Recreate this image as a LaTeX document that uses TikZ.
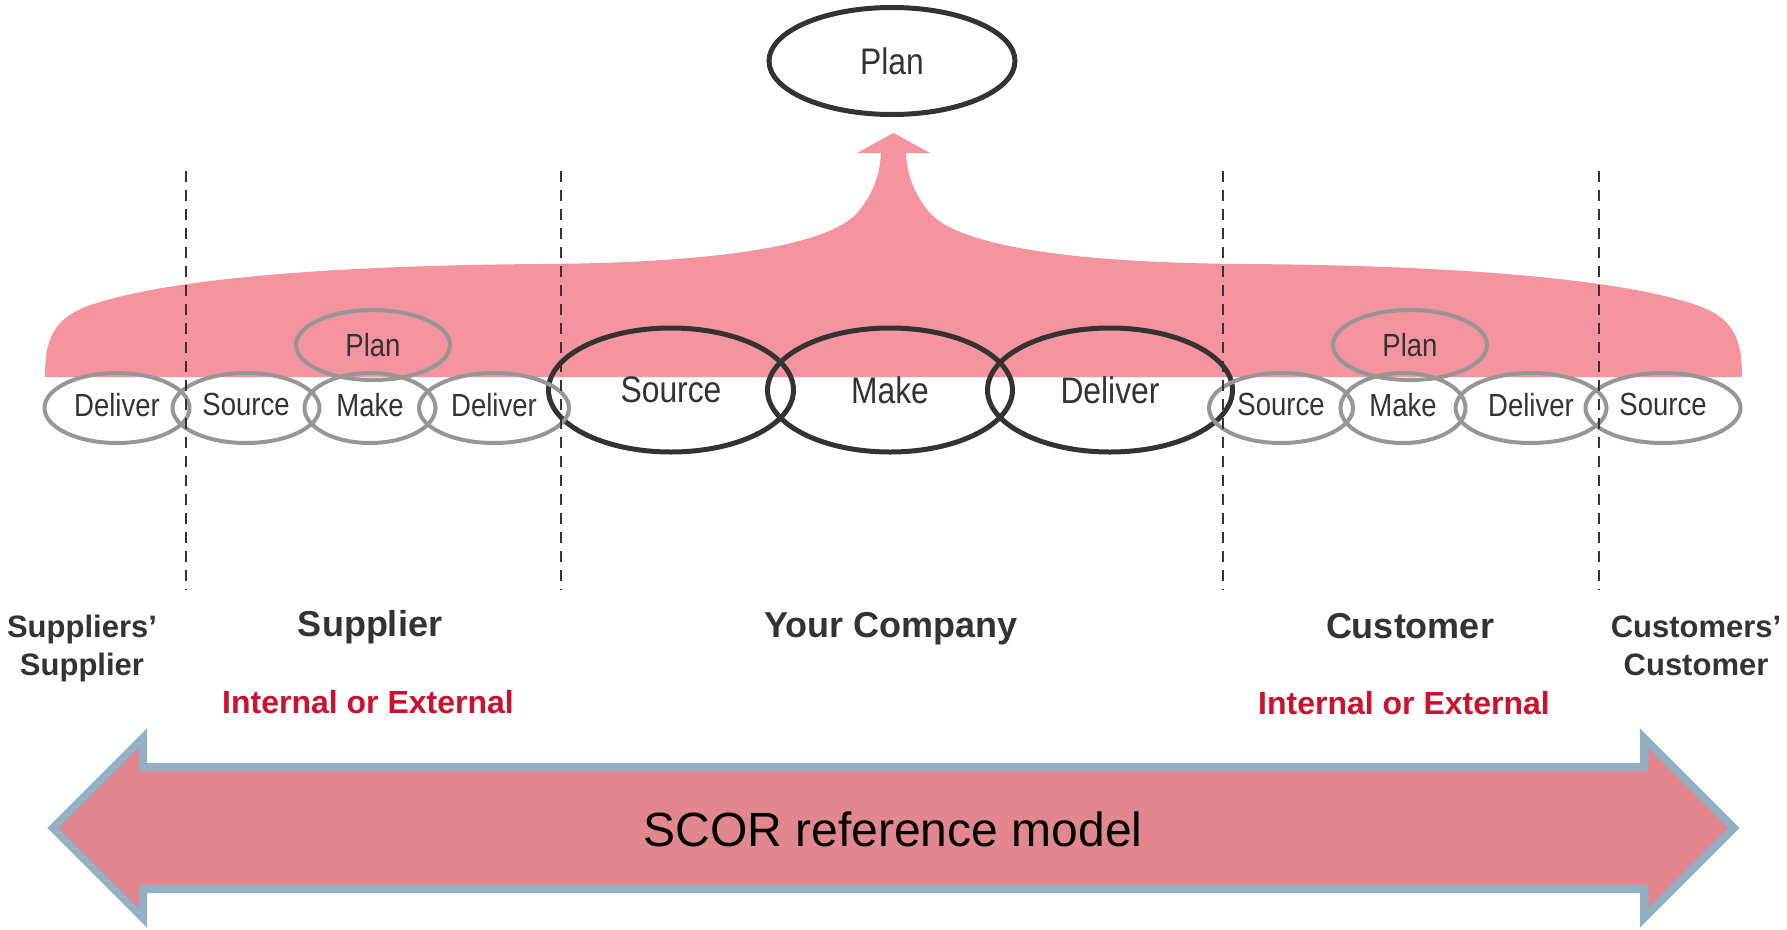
\documentclass[tikz,border=0pt]{standalone}
\usepackage{fontspec}
\setmainfont{Liberation Sans}
\newfontfamily\narrowfont{Liberation Sans}[FakeStretch=0.86]
\usetikzlibrary{shapes.geometric}
\definecolor{planpink}{HTML}{F5949E}
\definecolor{scorfill}{HTML}{E3878F}
\definecolor{scoredge}{HTML}{92AFC4}
\definecolor{darktext}{HTML}{333333}
\definecolor{ringgray}{HTML}{969696}
\definecolor{extred}{HTML}{CD112D}

\begin{document}
\begin{tikzpicture}[x=1pt, y=-1pt,
    major/.style={ellipse, draw=darktext, line width=5, inner sep=0, minimum width=245, minimum height=124, text=darktext, font=\narrowfont\fontsize{37}{44}\selectfont},
    minor/.style={ellipse, draw=ringgray, line width=4, inner sep=0, minimum height=70, text=darktext, font=\narrowfont\fontsize{32}{38}\selectfont},
    lift/.style={text depth=7},
    boundary/.style={darktext, line width=2, dash pattern=on 11 off 8},
    party/.style={anchor=base, text=darktext, font=\bfseries\fontsize{36}{43}\selectfont},
    outer/.style={align=center, text=darktext, font=\bfseries\fontsize{31}{38}\selectfont},
    reach/.style={anchor=base, text=extred, font=\bfseries\fontsize{32}{38}\selectfont}]
        \useasboundingbox (0,0) rectangle (1787,929);
        \fill[planpink] (45,377) .. controls (45,335) and (55,315) .. (100,302)
            .. controls (200,272) and (400,265) .. (540,264)
            .. controls (720,263) and (830,245) .. (858,212)
            .. controls (876,190) and (880,170) .. (881,153)
            -- (857,153) -- (893.5,133) -- (930,153) -- (906,153)
            .. controls (907,170) and (911,190) .. (929,212)
            .. controls (957,245) and (1067,263) .. (1247,264)
            .. controls (1387,265) and (1587,272) .. (1687,302)
            .. controls (1732,315) and (1742,335) .. (1742,377) -- cycle;
        \node[major, minimum width=246, minimum height=107] (plan) at (892,61) {Plan};
        \node[major] (source) at (671,390) {Source};
        \node[major] (make) at (890,390) {Make};
        \node[major] (deliver) at (1110,390) {Deliver};
        \node[minor, lift, minimum width=145] (suppdeliver) at (117,408) {Deliver};
        \node[minor, lift, minimum width=147] (supsource) at (246,408) {Source};
        \node[minor, lift, minimum width=131] (supmake) at (370,408) {Make};
        \node[minor, lift, minimum width=150] (supdeliver) at (494,408) {Deliver};
        \node[minor, minimum width=154] (supplan) at (373,345) {Plan};
        \node[minor, lift, minimum width=144] (cussource) at (1281,408) {Source};
        \node[minor, lift, minimum width=125] (cusmake) at (1403,408) {Make};
        \node[minor, lift, minimum width=151] (cusdeliver) at (1531,408) {Deliver};
        \node[minor, lift, minimum width=155] (cuscussource) at (1663,408) {Source};
        \node[minor, minimum width=154] (cusplan) at (1410,345) {Plan};
        \draw[boundary] (186,171) -- (186,590);
        \draw[boundary] (561,171) -- (561,590);
        \draw[boundary] (1223,171) -- (1223,590);
        \draw[boundary] (1599,171) -- (1599,590);
        \node[outer] (suppsupp) at (82,648) {Suppliers’\\Supplier};
        \node[party] (supplier) at (370,636) {Supplier};
        \node[party] (company) at (891,637) {Your Company};
        \node[party] (customer) at (1410,638) {Customer};
        \node[outer] (custcust) at (1696,646) {Customers’\\Customer};
        \node[reach] (supreach) at (368,713) {Internal or External};
        \node[reach] (cusreach) at (1404,714) {Internal or External};
        \draw[fill=scorfill, draw=scoredge, line width=8] (53,828) -- (143,738) -- (143,767) -- (1644,767) -- (1644,738)
            -- (1734,828) -- (1644,918) -- (1644,889) -- (143,889) -- (143,918) -- cycle;
        \node[font=\fontsize{48}{58}\selectfont] (scor) at (893,829) {SCOR reference model};
    \end{tikzpicture}
\end{document}
